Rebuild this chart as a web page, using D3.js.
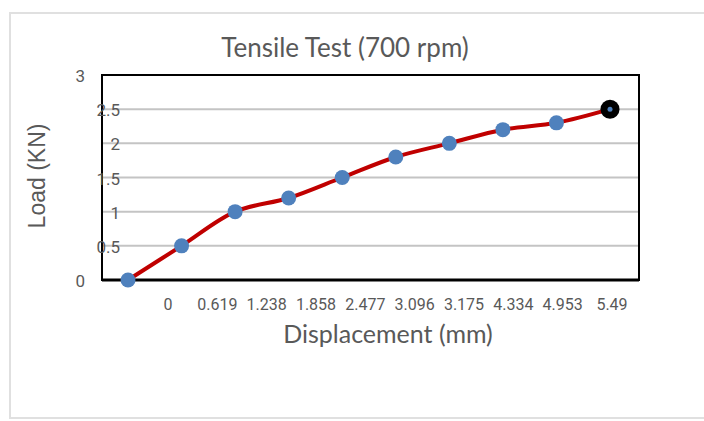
<!DOCTYPE html>
<html>
<head>
<meta charset="utf-8">
<script src="https://cdn.jsdelivr.net/npm/d3@7/dist/d3.min.js"></script>
<style>
  body { margin: 0; background: #fff; }
  text { fill: #595959; }
</style>
</head>
<body>
<script>
var width = 704;
var height = 421;

// data
var displacement = ['0', '0.619', '1.238', '1.858', '2.477', '3.096', '3.175', '4.334', '4.953', '5.49'];
var load = [0, 0.5, 1, 1.2, 1.5, 1.8, 2, 2.2, 2.3, 2.5];
var yTicks = [0, 0.5, 1, 1.5, 2, 2.5, 3];

var plot = { left: 102, top: 75, right: 639, bottom: 280 };

var svg = d3.select('body')
  .append('svg')
  .attr('width', width)
  .attr('height', height);

// outer chart frame
svg.append('rect')
  .attr('x', 10).attr('y', 13)
  .attr('width', 704).attr('height', 405)
  .attr('fill', 'none')
  .attr('stroke', '#e0e0e0')
  .attr('stroke-width', 2);

var x = d3.scalePoint().domain(d3.range(load.length)).range([128, 610]);
// category labels sit off from the points, as in the original
var xLabel = d3.scalePoint().domain(displacement).range([168, 612]);
var y = d3.scaleLinear().domain([0, 3]).range([plot.bottom, plot.top]);

// gridlines
svg.append('g')
  .selectAll('line')
  .data(yTicks.filter(function(d) { return d > 0 && d < 3; }))
  .enter()
  .append('line')
  .attr('x1', plot.left).attr('x2', plot.right)
  .attr('y1', function(d) { return y(d); })
  .attr('y2', function(d) { return y(d); })
  .attr('stroke', '#c4c4c4')
  .attr('stroke-width', 2);

// plot border
svg.append('rect')
  .attr('x', plot.left).attr('y', plot.top)
  .attr('width', plot.right - plot.left)
  .attr('height', plot.bottom - plot.top)
  .attr('fill', 'none')
  .attr('stroke', '#000')
  .attr('stroke-width', 2);
svg.append('line')
  .attr('x1', plot.left).attr('x2', plot.right)
  .attr('y1', plot.bottom).attr('y2', plot.bottom)
  .attr('stroke', '#000')
  .attr('stroke-width', 3);

// y tick labels (0 and 3 sit outside, the rest overlap the axis)
svg.append('g')
  .selectAll('text')
  .data(yTicks)
  .enter()
  .append('text')
  .attr('x', function(d) { return (d === 0 || d === 3) ? 85 : 120; })
  .attr('y', function(d) { return y(d) + 7; })
  .attr('text-anchor', 'end')
  .style('font-family', 'Roboto, sans-serif')
  .style('font-size', '17px')
  .text(function(d) { return d; });

// x category labels
svg.append('g')
  .selectAll('text')
  .data(displacement)
  .enter()
  .append('text')
  .attr('x', function(d) { return xLabel(d); })
  .attr('y', 310)
  .attr('text-anchor', 'middle')
  .style('font-family', 'Roboto, sans-serif')
  .style('font-size', '16px')
  .text(function(d) { return d; });

// line
var line = d3.line()
  .x(function(d, i) { return x(i); })
  .y(function(d) { return y(d); })
  .curve(d3.curveCatmullRom.alpha(0.5));

svg.append('path')
  .datum(load)
  .attr('d', line)
  .attr('fill', 'none')
  .attr('stroke', '#c00000')
  .attr('stroke-width', 4);

// markers
svg.append('g')
  .selectAll('circle')
  .data(load)
  .enter()
  .append('circle')
  .attr('cx', function(d, i) { return x(i); })
  .attr('cy', function(d) { return y(d); })
  .attr('r', function(d, i) { return i === load.length - 1 ? 9.5 : 7.5; })
  .attr('fill', function(d, i) { return i === load.length - 1 ? '#000' : '#4f81bd'; });

// highlighted last point
svg.append('circle')
  .attr('cx', x(load.length - 1))
  .attr('cy', y(load[load.length - 1]))
  .attr('r', 2.5)
  .attr('fill', '#4f81bd');

// titles
svg.append('text')
  .attr('x', 345).attr('y', 57)
  .attr('text-anchor', 'middle')
  .style('font-family', 'Lato, sans-serif')
  .style('font-size', '26px')
  .text('Tensile Test (700 rpm)');

svg.append('text')
  .attr('x', 388).attr('y', 343)
  .attr('text-anchor', 'middle')
  .style('font-family', 'Lato, sans-serif')
  .style('font-size', '25px')
  .text('Displacement (mm)');

svg.append('text')
  .attr('transform', 'translate(45,176) rotate(-90)')
  .attr('text-anchor', 'middle')
  .style('font-family', 'Liberation Sans, Arial, sans-serif')
  .style('font-size', '23px')
  .text('Load (KN)');
</script>
</body>
</html>
